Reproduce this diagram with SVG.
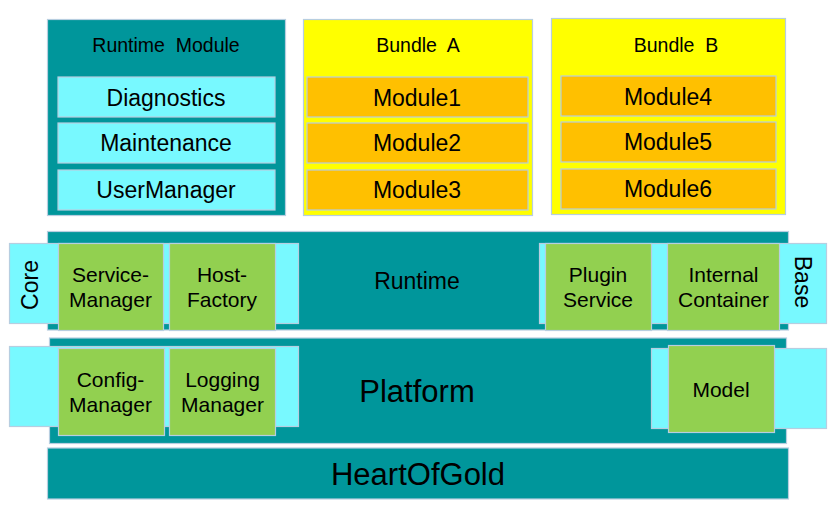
<svg xmlns="http://www.w3.org/2000/svg" width="832" height="505" viewBox="0 0 832 505">
<style>
text{font-family:"Liberation Sans",Arial,sans-serif;fill:#000;text-anchor:middle}
.teal{fill:#00969B;stroke:#B7CEE0;stroke-width:1.2}
.cyan{fill:#78F9FF;stroke:#B7CEE0;stroke-width:1.2}
.green{fill:#92D050;stroke:#B7CEE0;stroke-width:1.2}
.yellow{fill:#FFFF00;stroke:#B7CEE0;stroke-width:1.2}
.orange{fill:#FFC000;stroke:#B7CEE0;stroke-width:1.2}
.t19{font-size:19.5px}
.t21{font-size:21px}
.t23{font-size:23px}
.t31{font-size:31px}
</style>
<rect width="832" height="505" fill="#fff"/>
<g id="runtime-module">
<rect class="teal" x="47.5" y="19.5" width="238" height="196"/>
<text class="t19" x="166" y="52" xml:space="preserve">Runtime  Module</text>
</g>
<g id="diagnostics"><rect class="cyan" x="58" y="77" width="217" height="40"/><text class="t23" x="166" y="106">Diagnostics</text></g>
<g id="maintenance"><rect class="cyan" x="58" y="123" width="217" height="40"/><text class="t23" x="166" y="151">Maintenance</text></g>
<g id="usermanager"><rect class="cyan" x="58" y="170" width="217" height="40"/><text class="t23" x="166" y="198">UserManager</text></g>

<g id="bundle-a">
<rect class="yellow" x="303.5" y="19.5" width="229" height="196"/>
<text class="t19" x="418" y="52" xml:space="preserve">Bundle  A</text>
</g>
<g id="module1"><rect class="orange" x="307" y="77" width="221" height="40"/><text class="t23" x="417" y="106">Module1</text></g>
<g id="module2"><rect class="orange" x="307" y="123" width="221" height="40"/><text class="t23" x="417" y="151">Module2</text></g>
<g id="module3"><rect class="orange" x="307" y="170" width="221" height="40"/><text class="t23" x="417" y="198">Module3</text></g>

<g id="bundle-b">
<rect class="yellow" x="551.5" y="18.5" width="234" height="196"/>
<text class="t19" x="676" y="51.5" xml:space="preserve">Bundle  B</text>
</g>
<g id="module4"><rect class="orange" x="561" y="76" width="215" height="40"/><text class="t23" x="668" y="105">Module4</text></g>
<g id="module5"><rect class="orange" x="561" y="122" width="215" height="40"/><text class="t23" x="668" y="150">Module5</text></g>
<g id="module6"><rect class="orange" x="561" y="169" width="215" height="40"/><text class="t23" x="668" y="197">Module6</text></g>

<g id="runtime">
<rect class="teal" x="47.5" y="231.5" width="741" height="98.5"/>
<text class="t23" x="417" y="289">Runtime</text>
</g>
<g id="core">
<rect class="cyan" x="9.5" y="243.5" width="289" height="80"/>
<text class="t23" transform="translate(37.5,285) rotate(-90)">Core</text>
</g>
<g id="service-manager"><rect class="green" x="58.5" y="243.5" width="105" height="87"/><text class="t21" x="110.5" y="282">Service-</text><text class="t21" x="110.5" y="307">Manager</text></g>
<g id="host-factory"><rect class="green" x="169.5" y="243.5" width="106" height="87"/><text class="t21" x="222" y="282">Host-</text><text class="t21" x="222" y="307">Factory</text></g>
<g id="base">
<rect class="cyan" x="539.5" y="243.5" width="287" height="80"/>
<text class="t23" transform="translate(795,282) rotate(90)">Base</text>
</g>
<g id="plugin-service"><rect class="green" x="545.5" y="243.5" width="106" height="87"/><text class="t21" x="598" y="282">Plugin</text><text class="t21" x="598" y="307">Service</text></g>
<g id="internal-container"><rect class="green" x="667.5" y="243.5" width="112" height="87"/><text class="t21" x="723.5" y="282">Internal</text><text class="t21" x="723.5" y="307">Container</text></g>

<g id="platform">
<rect class="teal" x="49.5" y="338" width="737" height="105.5"/>
<text class="t31" x="417" y="401.5">Platform</text>
</g>
<g id="platform-core"><rect class="cyan" x="9.5" y="346.5" width="289" height="80"/></g>
<g id="config-manager"><rect class="green" x="58.5" y="348.5" width="106" height="87"/><text class="t21" x="110.5" y="387">Config-</text><text class="t21" x="110.5" y="412">Manager</text></g>
<g id="logging-manager"><rect class="green" x="169.5" y="348.5" width="106" height="87"/><text class="t21" x="222.5" y="387">Logging</text><text class="t21" x="222.5" y="412">Manager</text></g>
<g id="platform-base"><rect class="cyan" x="651.5" y="348.5" width="175" height="80"/></g>
<g id="model"><rect class="green" x="668.5" y="345.5" width="106" height="87"/><text class="t21" x="721" y="397">Model</text></g>

<g id="heartofgold">
<rect class="teal" x="47.5" y="448" width="741" height="51"/>
<text class="t31" x="418" y="485">HeartOfGold</text>
</g>
</svg>
